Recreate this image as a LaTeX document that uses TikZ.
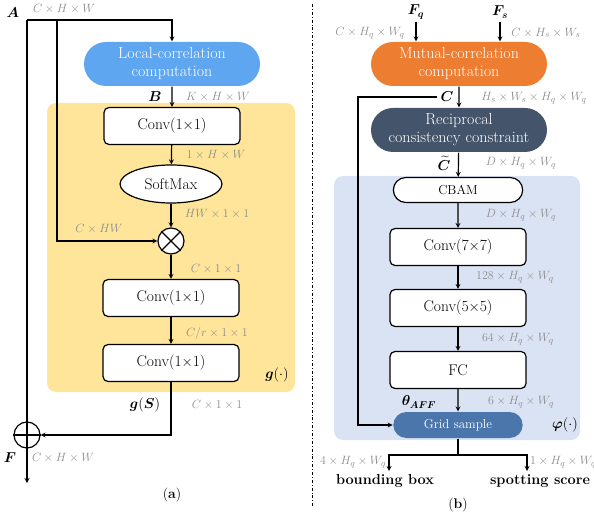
\documentclass[tikz,border=0pt]{standalone}
\usepackage{amsmath,bm}
\usetikzlibrary{shapes.misc, shapes.geometric, positioning}
\definecolor{locblue}{RGB}{94,166,240}
\definecolor{mutorange}{RGB}{237,125,49}
\definecolor{recipnavy}{RGB}{68,84,106}
\definecolor{gridblue}{RGB}{74,118,172}
\definecolor{gbg}{RGB}{255,229,153}
\definecolor{phibg}{RGB}{218,227,243}
\definecolor{dimgray}{RGB}{140,140,140}
\tikzset{
  stadium/.style={rounded rectangle, minimum width=180pt, minimum height=44pt,
    text=white, align=center, inner sep=2pt, font=\fontsize{16}{18}\selectfont},
  convbox/.style={draw, rounded corners=5pt, fill=white, minimum width=136pt,
    minimum height=37pt, font=\fontsize{15.5}{17}\selectfont},
  pillbox/.style={rounded rectangle, minimum width=136pt, font=\fontsize{13}{15}\selectfont},
  dim/.style={text=dimgray, inner sep=1pt, font=\fontsize{12.5}{14}\selectfont},
  sym/.style={inner sep=1pt, font=\fontsize{14.5}{16}\selectfont},
  opnode/.style={draw, circle, fill=white, minimum size=26pt, inner sep=0pt},
}
\begin{document}
\begin{tikzpicture}[x=1pt, y=-1pt, >=stealth, line width=1.2pt]
  \useasboundingbox (0,0) rectangle (594,518);

  % backgrounds
  \fill[gbg, rounded corners=9pt] (47,103) rectangle (295,392);
  \fill[phibg, rounded corners=9pt] (334,176) rectangle (580,440);

  % (a)
  \node[stadium, fill=locblue] (loccorr) at (172,64) {Local-correlation\\computation};
  \node[convbox] (convA) at (172,126) {Conv(1$\times$1)};
  \node[ellipse, draw, fill=white, minimum width=102pt, minimum height=38pt,
    font=\fontsize{15.5}{17}\selectfont] (softmax) at (171,184) {SoftMax};
  \node[opnode] (mult) at (171,241) {};
  \draw (mult.45) -- (mult.225) (mult.135) -- (mult.315);
  \node[convbox] (convB) at (171,298) {Conv(1$\times$1)};
  \node[convbox] (convC) at (171,363) {Conv(1$\times$1)};
  \node[opnode] (plus) at (27,435) {};
  \draw (plus.north) -- (plus.south) (plus.west) -- (plus.east);

  \coordinate (topA) at (27,20);
  \coordinate (branchA) at (57,20);
  \coordinate (outF) at (27,483);
  \draw (topA) -- (plus.north);
  \draw[->] (topA) -| (loccorr.north);
  \draw[->] (branchA) |- (mult.west);
  \draw[->] (loccorr) -- (convA);
  \draw[->] (convA) -- (softmax);
  \draw[->] (softmax) -- (mult);
  \draw[->] (mult) -- (convB);
  \draw[->] (convB) -- (convC);
  \draw[->] (convC.south) |- (plus.east);
  \draw[->] (plus.south) -- (outF);

  \node[sym] (lblA) at (13,13) {$\bm{A}$};
  \node[dim] (dimA) at (64,9) {$C\times H\times W$};
  \node[sym] (lblB) at (155,97) {$\bm{B}$};
  \node[dim] (dimB) at (218,97) {$K\times H\times W$};
  \node[dim] (dimC) at (216,155) {$1\times H\times W$};
  \node[dim] (dimD) at (217,214) {$HW\times 1\times 1$};
  \node[dim] (dimE) at (99,229) {$C\times HW$};
  \node[dim] (dimF) at (216,269) {$C\times 1\times 1$};
  \node[dim] (dimG) at (217,334) {$C/r\times 1\times 1$};
  \node[sym] (lblg) at (277,375) {$\bm{g}(\cdot)$};
  \node[sym] (lblgS) at (145,405) {$\bm{g}(\bm{S})$};
  \node[dim] (dimH) at (217,405) {$C\times 1\times 1$};
  \node[sym] (lblF) at (10,458) {$\bm{F}$};
  \node[dim] (dimI) at (63,458) {$C\times H\times W$};
  \node[font=\fontsize{14}{16}\selectfont] (capA) at (172,495) {(\textbf{a})};

  % separator
  \coordinate (sepT) at (312,4);
  \coordinate (sepB) at (312,506);
  \draw[line width=0.8pt, dash dot] (sepT) -- (sepB);

  % (b)
  \node[stadium, fill=mutorange] (mutcorr) at (459,64) {Mutual-correlation\\computation};
  \node[stadium, fill=recipnavy] (recip) at (459,130) {Reciprocal\\consistency constraint};
  \node[pillbox, draw, fill=white, minimum height=25pt] (cbam) at (458,190) {CBAM};
  \node[convbox] (convD) at (458,247) {Conv(7$\times$7)};
  \node[convbox] (convE) at (458,308) {Conv(5$\times$5)};
  \node[convbox] (fc) at (458,370) {FC};
  \node[pillbox, fill=gridblue, text=white, minimum height=26pt] (grid) at (458,425) {Grid sample};

  \coordinate (fq) at (416,22);
  \coordinate (fs) at (500,22);
  \coordinate (cbranch) at (437,97);
  \coordinate (bypass) at (358,97);
  \coordinate (split) at (458,455);
  \coordinate (outL) at (389,471);
  \coordinate (outR) at (527,471);
  \draw[->] (fq) -- (fq |- mutcorr.north);
  \draw[->] (fs) -- (fs |- mutcorr.north);
  \draw[->] (mutcorr) -- (recip);
  \draw[->] (recip) -- (cbam);
  \draw[->] (cbam) -- (convD);
  \draw[->] (convD) -- (convE);
  \draw[->] (convE) -- (fc);
  \draw[->] (fc) -- (grid);
  \draw[->] (cbranch) -- (bypass) |- (grid.west);
  \draw (grid.south) -- (split);
  \draw[->] (split) -| (outL);
  \draw[->] (split) -| (outR);

  \node[sym] (lblFq) at (416,12) {$\bm{F_q}$};
  \node[sym] (lblFs) at (500,12) {$\bm{F_s}$};
  \node[dim] (dimJ) at (370,33) {$C\times H_q\times W_q$};
  \node[dim] (dimK) at (546,33) {$C\times H_s\times W_s$};
  \node[sym] (lblC) at (447,97) {$\bm{C}$};
  \node[dim] (dimL) at (534,98) {$H_s\times W_s\times H_q\times W_q$};
  \node[sym] (lblCt) at (444,163) {$\widetilde{\bm{C}}$};
  \node[dim] (dimM) at (521,163) {$D\times H_q\times W_q$};
  \node[dim] (dimN) at (521,215) {$D\times H_q\times W_q$};
  \node[dim] (dimO) at (515,277) {$128\times H_q\times W_q$};
  \node[dim] (dimP) at (518,339) {$64\times H_q\times W_q$};
  \node[sym] (lblth) at (419,402) {$\bm{\theta_{AFF}}$};
  \node[dim] (dimQ) at (521,402) {$6\times H_q\times W_q$};
  \node[sym] (lblphi) at (565,425) {$\bm{\varphi}(\cdot)$};
  \node[dim] (dimR) at (353,462) {$4\times H_q\times W_q$};
  \node[dim] (dimS) at (563,462) {$1\times H_q\times W_q$};
  \node[font=\bfseries\fontsize{14.5}{16}\selectfont] (bbox) at (385,481) {bounding box};
  \node[font=\bfseries\fontsize{14.5}{16}\selectfont] (score) at (540,481) {spotting score};
  \node[font=\fontsize{14}{16}\selectfont] (capB) at (458,505) {(\textbf{b})};
\end{tikzpicture}
\end{document}
